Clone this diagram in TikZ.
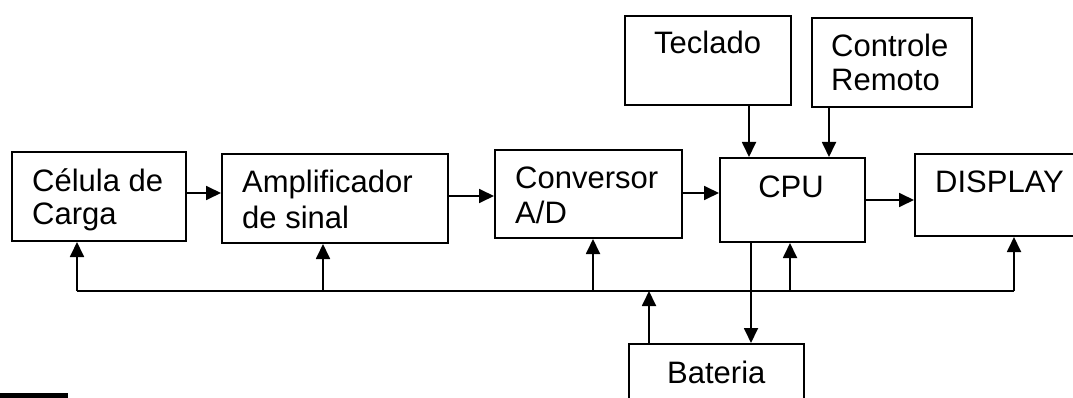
\documentclass[tikz,border=0pt]{standalone}
\usepackage{fontspec}
\setmainfont{Liberation Sans}
\usetikzlibrary{arrows.meta}
\begin{document}
\begin{tikzpicture}[x=1pt,y=-1pt,
  blk/.style={draw=black, line width=2pt, rectangle, inner sep=0pt, anchor=north west},
  lbl/.style={anchor=base west, inner sep=0pt, font=\fontsize{31}{34}\selectfont},
  lblc/.style={anchor=base, inner sep=0pt, font=\fontsize{31}{34}\selectfont},
  conn/.style={line width=1.8pt, -{Triangle[length=15pt,width=14pt]}},
  plain/.style={line width=1.8pt}]
\useasboundingbox (0,0) rectangle (1073,398);
\clip (0,0) rectangle (1073,398);
\fill[white] (0,0) rectangle (1073,398);
% blocks
\node[blk, minimum width=174pt, minimum height=89pt] (cel) at (11,151) {};
\node[blk, minimum width=226pt, minimum height=89pt] (amp) at (221,153) {};
\node[blk, minimum width=187pt, minimum height=88pt] (conv) at (494,149) {};
\node[blk, minimum width=145pt, minimum height=84pt] (cpu) at (719,157) {};
\node[blk, minimum width=180pt, minimum height=82pt] (disp) at (914,153) {};
\node[blk, minimum width=166pt, minimum height=89pt] (tec) at (624,15) {};
\node[blk, minimum width=160pt, minimum height=89pt] (ctl) at (811,17) {};
\node[blk, minimum width=175pt, minimum height=80pt] (bat) at (628,343) {};
% labels
\node[lbl] (celA) at (32,192) {Célula de};
\node[lbl] (celB) at (32,225) {Carga};
\node[lbl] (ampA) at (242,193) {Amplificador};
\node[lbl] (ampB) at (242,228) {de sinal};
\node[lbl] (convA) at (515,189) {Conversor};
\node[lbl] (convB) at (515,223) {A/D};
\node[lblc] (cpuL) at (791,197) {CPU};
\node[lbl] (dispL) at (935,193) {DISPLAY};
\node[lbl] (tecL) at (654,54) {Teclado};
\node[lbl] (ctlA) at (831,57) {Controle};
\node[lbl] (ctlB) at (831,91) {Remoto};
\node[lbl] (batL) at (667,383) {Bateria};
% bus coordinates
\coordinate (busL) at (77,291);
\coordinate (busR) at (1014,291);
\coordinate (bAmp) at (323,291);
\coordinate (bConv) at (593,291);
\coordinate (bCpu) at (790,291);
\coordinate (bBat) at (649,291);
\draw[plain] (busL) -- (busR);
% up arrows from bus
\draw[conn] (busL) -- (busL |- cel.south);
\draw[conn] (bAmp) -- (bAmp |- amp.south);
\draw[conn] (bConv) -- (bConv |- conv.south);
\draw[conn] (bCpu) -- (bCpu |- cpu.south);
\draw[conn] (busR) -- (busR |- disp.south);
% battery
\draw[conn] (bBat |- bat.north) -- (bBat);
\coordinate (cpuDn) at (751,241);
\draw[conn] (cpuDn |- cpu.south) -- (cpuDn |- bat.north);
% top inputs
\coordinate (tecX) at (749,0);
\coordinate (ctlX) at (829,0);
\draw[conn] (tecX |- tec.south) -- (tecX |- cpu.north);
\draw[conn] (ctlX |- ctl.south) -- (ctlX |- cpu.north);
% horizontal chain
\coordinate (h1) at (0,193);
\coordinate (h2) at (0,196);
\coordinate (h3) at (0,193);
\coordinate (h4) at (0,200);
\draw[conn] (cel.east |- h1) -- (amp.west |- h1);
\draw[conn] (amp.east |- h2) -- (conv.west |- h2);
\draw[conn] (conv.east |- h3) -- (cpu.west |- h3);
\draw[conn] (cpu.east |- h4) -- (disp.west |- h4);
% black bar bottom left
\fill[black] (0,393) rectangle (68,398);
\end{tikzpicture}
\end{document}
